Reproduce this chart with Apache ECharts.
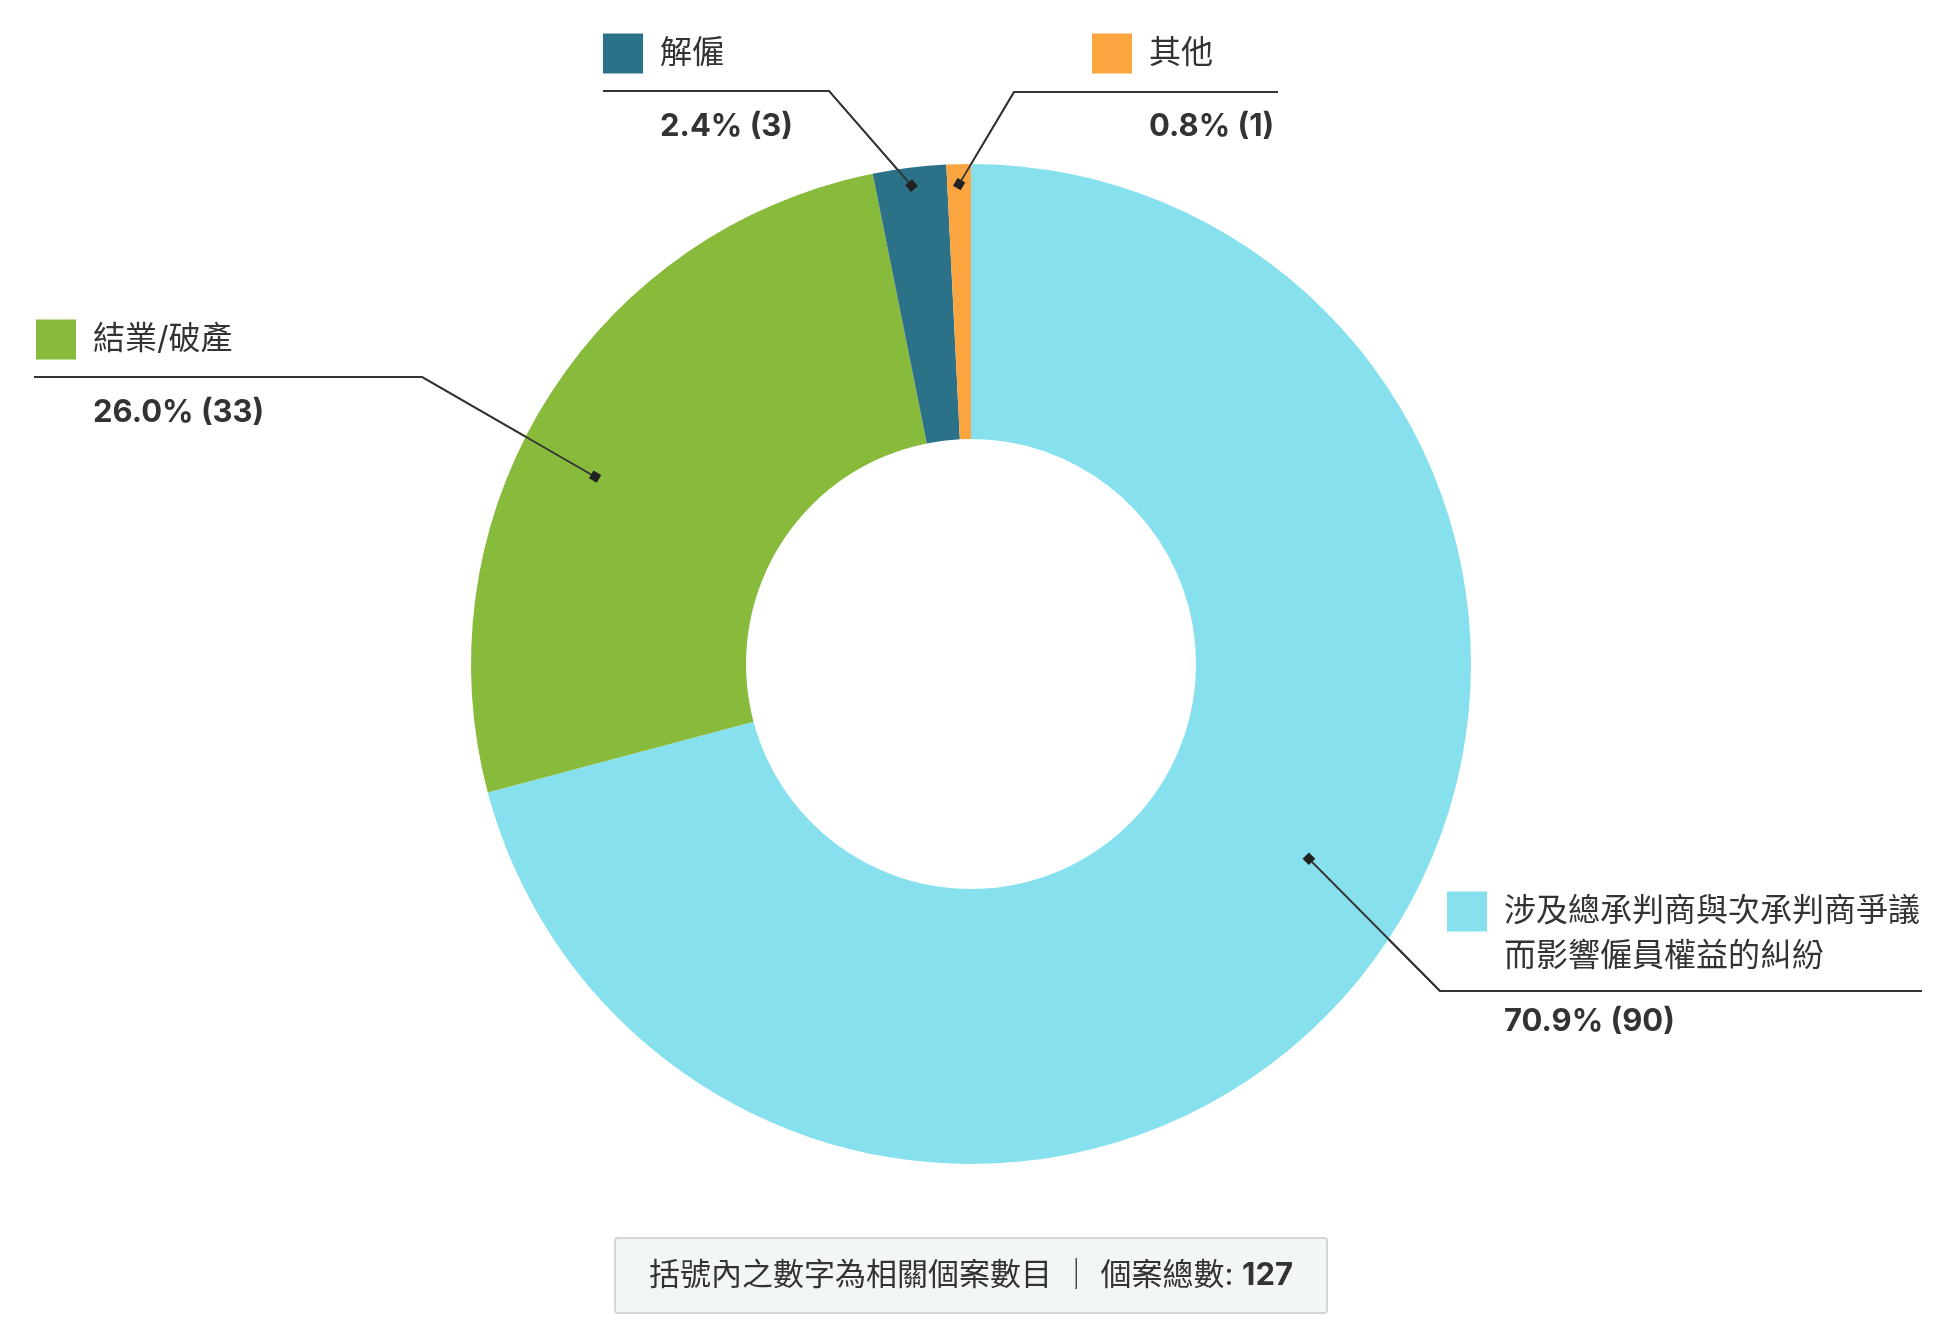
<!DOCTYPE html>
<html>
<head>
<meta charset="utf-8">
<script src="https://cdn.jsdelivr.net/npm/echarts@6/dist/echarts.min.js"></script>
<style>
html, body { margin: 0; padding: 0; background: #fff; }
#pchart { width: 1942px; height: 1320px; }
</style>
</head>
<body>
<div id="pchart"></div>
<script>
var categories = ['涉及總承判商與次承判商爭議而影響僱員權益的糾紛', '結業/破產', '解僱', '其他'];
var caseCounts = [90, 33, 3, 1];
var sliceColors = ['#87e0ee', '#88ba3c', '#2b7289', '#fba541'];
var footNote = '括號內之數字為相關個案數目';
var footTotalText = '個案總數';

// label box (top-left), rule under the name, knee of leader line,
// anchor depth in slice and a small turn (deg) off the slice middle
var labelSpots = [
	{ x: 1447, y: 889, lineY: 991, kneeX: 1440, endX: 1922, anchor: 0.78, turn: -7.6, gap: 22, wrap: 13 },
	{ x: 36, y: 317, lineY: 377, kneeX: 422, endX: 34, anchor: 0.84, turn: -5.4, gap: 30 },
	{ x: 603, y: 31, lineY: 91, kneeX: 829, endX: 603, anchor: 0.964, turn: 0, gap: 30 },
	{ x: 1092, y: 31, lineY: 92, kneeX: 1014, endX: 1278, anchor: 0.96, turn: 0, gap: 30 }
];

var fontFam = 'Inter, "Noto Sans CJK TC", sans-serif';
var pieCenterY = 664;
var lineColor = '#333';
var total = 0;
for (var k = 0; k < caseCounts.length; k++) total += caseCounts[k];

var myChart = echarts.init(document.getElementById('pchart'));
var anchors = [];

var rich = {
	sp: { width: 17 },
	ind: { width: 57 },
	name: { fontSize: 32, lineHeight: 45, color: '#333', fontFamily: fontFam },
	val: { fontSize: 31, lineHeight: 41, fontWeight: 'bold', color: '#333', fontFamily: fontFam }
};
var pieData = [];
for (var i = 0; i < categories.length; i++) {
	rich['sq' + i] = { width: 40, height: 40, backgroundColor: sliceColors[i] };
	rich['gap' + i] = { lineHeight: labelSpots[i].gap, fontSize: 8 };
	pieData.push({ name: categories[i], value: caseCounts[i], itemStyle: { color: sliceColors[i] } });
}

function labelText(p) {
	var i = p.dataIndex;
	var s = labelSpots[i];
	var name = p.name;
	var parts = [];
	if (s.wrap) {
		while (name.length > s.wrap) {
			parts.push(name.substr(0, s.wrap));
			name = name.substr(s.wrap);
		}
	}
	parts.push(name);
	var out = '{sq' + i + '|}{sp|}{name|' + parts[0] + '}';
	for (var j = 1; j < parts.length; j++) out += '\n{ind|}{name|' + parts[j] + '}';
	var pct = (p.value / total * 100).toFixed(1);
	out += '\n{gap' + i + '| }\n{ind|}{val|' + pct + '% (' + p.value + ')}';
	return out;
}

var option = {
	animation: false,
	title: {
		text: '{t|' + footNote + ' ｜ ' + footTotalText + ': }{b|' + total + '}',
		left: 'center',
		top: 1233,
		padding: [22, 34, 22, 34],
		backgroundColor: '#f3f6f7',
		borderColor: '#d3d6d8',
		borderWidth: 2,
		borderRadius: 3,
		textStyle: {
			fontWeight: 'normal',
			rich: {
				t: { fontSize: 31, lineHeight: 41, color: '#333', fontWeight: 'normal', fontFamily: fontFam },
				b: { fontSize: 31, lineHeight: 41, color: '#333', fontWeight: 'bold', fontFamily: fontFam }
			}
		}
	},
	series: [{
		type: 'pie',
		center: ['50%', pieCenterY],
		radius: [225, 500],
		startAngle: 90,
		clockwise: true,
		avoidLabelOverlap: false,
		emphasis: { disabled: true },
		data: pieData,
		label: {
			show: true,
			position: 'outside',
			overflow: 'none',
			width: 520,
			formatter: labelText,
			rich: rich
		},
		labelLine: {
			show: true,
			showAbove: true,
			length: 20,
			length2: 20,
			lineStyle: { color: lineColor, width: 1.8 }
		},
		labelLayout: function (params) {
			var i = params.dataIndex;
			var s = labelSpots[i];
			var pts = params.labelLinePoints;
			var cx = myChart.getWidth() / 2;
			var vx = (pts[0][0] - cx) * s.anchor;
			var vy = (pts[0][1] - pieCenterY) * s.anchor;
			var t = s.turn * Math.PI / 180;
			var ax = cx + vx * Math.cos(t) - vy * Math.sin(t);
			var ay = pieCenterY + vx * Math.sin(t) + vy * Math.cos(t);
			anchors[i] = [ax, ay, s.kneeX, s.lineY];
			return {
				x: s.x,
				y: s.y,
				align: 'left',
				verticalAlign: 'top',
				labelLinePoints: [[ax, ay], [s.kneeX, s.lineY], [s.endX, s.lineY]]
			};
		}
	}]
};

myChart.setOption(option);

// the part of each leader line that runs over the slices, plus its end square
var marks = [];
for (var d = 0; d < anchors.length; d++) {
	if (!anchors[d]) continue;
	var a = anchors[d];
	marks.push({
		type: 'line',
		shape: { x1: a[0], y1: a[1], x2: a[2], y2: a[3] },
		style: { stroke: lineColor, lineWidth: 1.8 },
		z: 99,
		silent: true
	});
	marks.push({
		type: 'rect',
		x: a[0],
		y: a[1],
		rotation: -Math.atan2(a[3] - a[1], a[2] - a[0]),
		shape: { x: -4.5, y: -4.5, width: 9, height: 9 },
		style: { fill: '#222' },
		z: 100,
		silent: true
	});
}
myChart.setOption({ graphic: marks });
</script>
</body>
</html>
